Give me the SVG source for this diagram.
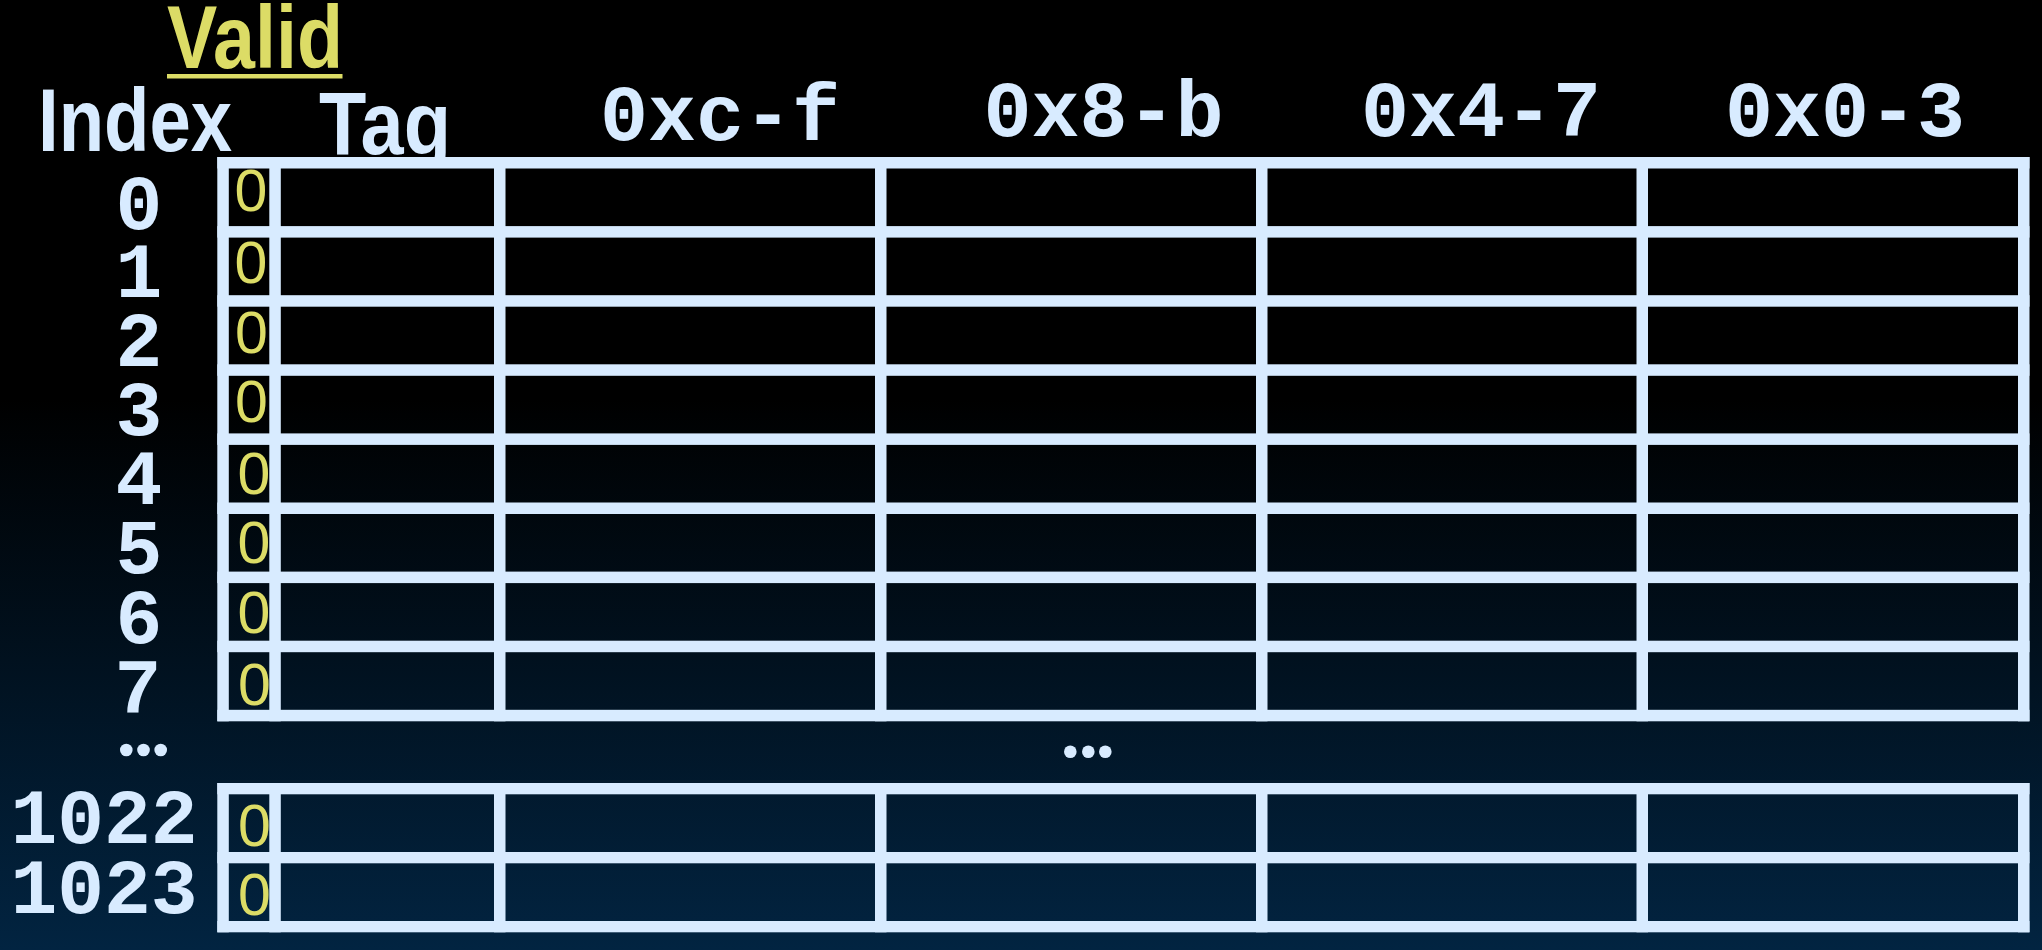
<svg xmlns="http://www.w3.org/2000/svg" width="2042" height="950" viewBox="0 0 2042 950">
  <defs>
    <linearGradient id="bg" x1="0" y1="0" x2="0" y2="1">
      <stop offset="0" stop-color="#000000"/>
      <stop offset="0.42" stop-color="#000000"/>
      <stop offset="1" stop-color="#022441"/>
    </linearGradient>
    <clipPath id="tagclip"><rect x="300" y="0" width="200" height="167"/></clipPath>
  </defs>
  <style>
    .grid rect { fill: #d8ebff; }
    .hdr { font-family: "Liberation Sans", Arial, sans-serif; font-weight: bold; font-size: 89px; fill: #d8ebff; }
    .valid { font-family: "Liberation Sans", Arial, sans-serif; font-weight: bold; font-size: 89px; fill: #dcdc66; }
    .mono { font-family: "Liberation Mono", "Courier New", monospace; font-weight: bold; font-size: 80px; fill: #d8ebff; text-anchor: middle; }
    .idx { font-family: "Liberation Mono", "Courier New", monospace; font-weight: bold; font-size: 78px; fill: #d8ebff; text-anchor: middle; }
    .bit { font-family: "Liberation Sans", Arial, sans-serif; font-size: 59px; fill: #dcdc66; text-anchor: middle; }
    .dot { fill: #d8ebff; }
  </style>
  <rect x="0" y="0" width="2042" height="950" fill="url(#bg)"/>

  <g id="header-valid">
    <text class="valid" x="167" y="68" textLength="176" lengthAdjust="spacingAndGlyphs">Valid</text>
    <rect x="167" y="74" width="175.5" height="4.5" fill="#dcdc66"/>
  </g>
  <g id="header-index">
    <text class="hdr" x="38" y="151" textLength="194" lengthAdjust="spacingAndGlyphs">Index</text>
  </g>
  <g id="header-tag">
    <text class="hdr" x="319" y="154" textLength="132" lengthAdjust="spacingAndGlyphs" clip-path="url(#tagclip)">Tag</text>
  </g>
  <g id="header-bytes">
    <text class="mono" x="720" y="140">0xc-f</text>
    <text class="mono" x="1103.5" y="136">0x8-b</text>
    <text class="mono" x="1481" y="136">0x4-7</text>
    <text class="mono" x="1845" y="136">0x0-3</text>
  </g>

  <g id="row-0"><text class="idx" x="139" y="229">0</text><text class="bit" x="251" y="211">0</text></g>
  <g id="row-1"><text class="idx" x="139" y="297">1</text><text class="bit" x="251" y="282.5">0</text></g>
  <g id="row-2"><text class="idx" x="139" y="366">2</text><text class="bit" x="251.5" y="352.5">0</text></g>
  <g id="row-3"><text class="idx" x="139" y="435">3</text><text class="bit" x="251.5" y="422">0</text></g>
  <g id="row-4"><text class="idx" x="139" y="504">4</text><text class="bit" x="254" y="494">0</text></g>
  <g id="row-5"><text class="idx" x="139" y="573">5</text><text class="bit" x="254" y="563">0</text></g>
  <g id="row-6"><text class="idx" x="139" y="643">6</text><text class="bit" x="254" y="632.5">0</text></g>
  <g id="row-7"><text class="idx" x="138" y="713">7</text><text class="bit" x="254.5" y="705">0</text></g>
  <g id="ellipsis-left">
    <circle class="dot" cx="126.3" cy="750" r="6.3"/>
    <circle class="dot" cx="143.5" cy="750" r="6.3"/>
    <circle class="dot" cx="160.7" cy="750" r="6.3"/>
  </g>
  <g id="ellipsis-mid">
    <circle class="dot" cx="1070.3" cy="751.7" r="6.3"/>
    <circle class="dot" cx="1088.3" cy="751.7" r="6.3"/>
    <circle class="dot" cx="1105.3" cy="751.7" r="6.3"/>
  </g>
  <g id="row-1022"><text class="idx" x="104" y="843">1022</text><text class="bit" x="254.5" y="846">0</text></g>
  <g id="row-1023"><text class="idx" x="104" y="913">1023</text><text class="bit" x="254.5" y="915">0</text></g>

  <g id="grid-top" class="grid">
    <rect x="217.3" y="157" width="1812.2" height="11.5"/>
    <rect x="217.3" y="226.1" width="1812.2" height="11.5"/>
    <rect x="217.3" y="295.2" width="1812.2" height="11.5"/>
    <rect x="217.3" y="364.3" width="1812.2" height="11.5"/>
    <rect x="217.3" y="433.4" width="1812.2" height="11.5"/>
    <rect x="217.3" y="502.5" width="1812.2" height="11.5"/>
    <rect x="217.3" y="571.6" width="1812.2" height="11.5"/>
    <rect x="217.3" y="640.7" width="1812.2" height="11.5"/>
    <rect x="217.3" y="709.8" width="1812.2" height="11.5"/>
    <rect x="217.3" y="157" width="11.5" height="564.3"/>
    <rect x="269.3" y="157" width="11.5" height="564.3"/>
    <rect x="494" y="157" width="11.5" height="564.3"/>
    <rect x="875" y="157" width="11.5" height="564.3"/>
    <rect x="1256" y="157" width="11.5" height="564.3"/>
    <rect x="1636.5" y="157" width="11.5" height="564.3"/>
    <rect x="2018" y="157" width="11.5" height="564.3"/>
  </g>
  <g id="grid-bottom" class="grid">
    <rect x="217.3" y="783" width="1812.2" height="11.3"/>
    <rect x="217.3" y="852" width="1812.2" height="11.3"/>
    <rect x="217.3" y="921" width="1812.2" height="11.3"/>
    <rect x="217.3" y="783" width="11.5" height="149.3"/>
    <rect x="269.3" y="783" width="11.5" height="149.3"/>
    <rect x="494" y="783" width="11.5" height="149.3"/>
    <rect x="875" y="783" width="11.5" height="149.3"/>
    <rect x="1256" y="783" width="11.5" height="149.3"/>
    <rect x="1636.5" y="783" width="11.5" height="149.3"/>
    <rect x="2018" y="783" width="11.5" height="149.3"/>
  </g>
</svg>
